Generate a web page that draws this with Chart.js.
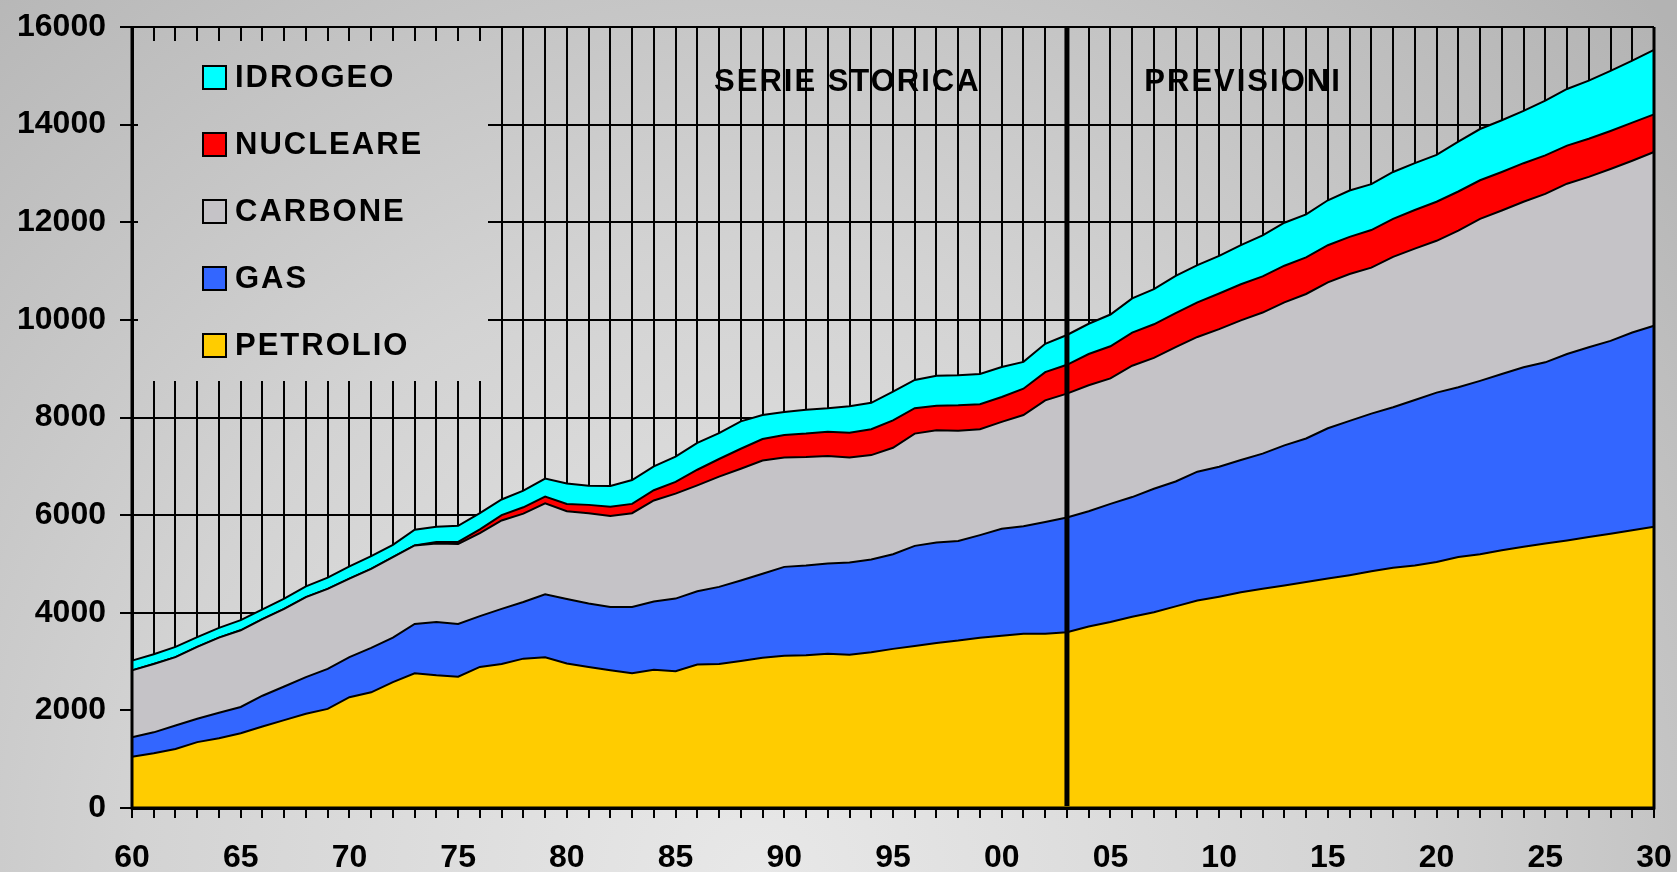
<!DOCTYPE html>
<html><head><meta charset="utf-8">
<script src="https://cdn.jsdelivr.net/npm/chart.js@4.4.1/dist/chart.umd.min.js"></script>
<style>html,body{margin:0;padding:0;background:#c8c8c8;overflow:hidden}canvas{display:block}</style>
</head><body>
<canvas id="c" width="1677" height="872"></canvas>
<script>
const years = [1960,1961,1962,1963,1964,1965,1966,1967,1968,1969,
  1970,1971,1972,1973,1974,1975,1976,1977,1978,1979,
  1980,1981,1982,1983,1984,1985,1986,1987,1988,1989,
  1990,1991,1992,1993,1994,1995,1996,1997,1998,1999,
  2000,2001,2002,2003,2004,2005,2006,2007,2008,2009,
  2010,2011,2012,2013,2014,2015,2016,2017,2018,2019,
  2020,2021,2022,2023,2024,2025,2026,2027,2028,2029,2030];
const xTickLabels = ['60','65','70','75','80','85','90','95','00','05','10','15','20','25','30'];

const petrolio = [1050,1120,1210,1350,1430,1530,1670,1800,1930,2030,
  2270,2370,2580,2760,2720,2690,2890,2950,3060,3090,
  2960,2890,2820,2760,2830,2800,2940,2950,3010,3080,
  3120,3130,3160,3140,3190,3260,3320,3380,3430,3490,
  3530,3570,3570,3600,3720,3810,3920,4010,4130,4250,
  4330,4420,4490,4560,4630,4700,4770,4850,4920,4970,
  5040,5140,5200,5280,5350,5420,5480,5550,5620,5690,5760];
const gas = [400,430,480,480,520,540,630,690,750,820,
  820,910,910,1010,1090,1080,1040,1130,1160,1290,
  1320,1300,1300,1360,1400,1490,1500,1580,1650,1720,
  1820,1840,1850,1890,1900,1940,2050,2060,2040,2100,
  2190,2200,2290,2350,2360,2420,2450,2530,2560,2640,
  2660,2710,2770,2870,2940,3080,3160,3230,3290,3390,
  3470,3480,3550,3610,3680,3710,3820,3890,3950,4050,4120];
const carbone = [1370,1400,1400,1470,1540,1570,1570,1590,1640,1640,
  1610,1620,1650,1610,1610,1640,1700,1810,1810,1860,
  1800,1850,1860,1920,2070,2150,2170,2260,2290,2320,
  2240,2220,2200,2150,2140,2180,2300,2300,2260,2170,
  2190,2280,2490,2540,2580,2570,2690,2680,2750,2760,
  2820,2860,2890,2930,2960,2990,3010,2990,3080,3100,
  3110,3210,3320,3350,3390,3450,3490,3490,3520,3520,3560];
const nucleare = [0,0,0,0,0,0,0,0,0,0,
  0,0,0,0,30,40,80,110,130,140,
  150,170,190,190,210,240,320,360,410,440,
  460,480,500,510,530,560,520,500,520,510,
  510,540,580,590,640,660,680,690,700,710,
  730,740,740,750,750,760,760,770,780,790,
  800,800,790,790,790,790,780,780,780,780,770];
const idrogeo = [200,200,210,200,200,210,200,210,220,230,
  250,260,250,320,310,330,330,320,340,370,
  420,390,425,490,490,520,550,530,560,490,
  475,490,480,540,540,590,580,615,615,620,
  615,550,580,610,620,650,700,720,760,760,
  770,800,840,880,880,920,950,940,960,960,
  960,1020,1050,1060,1070,1120,1160,1190,1230,1270,1320];

const seriesNames = ['PETROLIO','GAS','CARBONE','NUCLEARE','IDROGEO'];
const seriesColors = ['#FFCC00','#3366FF','#C5C3C7','#FF0000','#00FFFF'];
const seriesData = [petrolio, gas, carbone, nucleare, idrogeo];
const splitYear = 2003;
const sectionTitles = ['SERIE STORICA','PREVISIONI'];

const FONT = '"Liberation Sans", Arial, sans-serif';

const decor = {
  id: 'decor',
  beforeDraw(chart) {
    const {ctx, width, height} = chart;
    const g = ctx.createRadialGradient(760, 880, 0, 760, 880, 1250);
    g.addColorStop(0, '#e8e8e8');
    g.addColorStop(0.5, '#d3d3d3');
    g.addColorStop(1, '#b3b3b3');
    chart.$bg = g;
    ctx.save();
    ctx.fillStyle = g;
    ctx.fillRect(0, 0, width, height);
    ctx.restore();
  },
  beforeDatasetsDraw(chart) {
    const {ctx, chartArea} = chart;
    ctx.save();
    ctx.fillStyle = chart.$bg;
    ctx.fillRect(chartArea.left + 6, chartArea.top + 14, 350, 340);
    ctx.restore();
  },
  afterDatasetsDraw(chart) {
    const {ctx, chartArea} = chart;
    const xs = chart.scales.x, ys = chart.scales.y;
    ctx.save();
    ctx.strokeStyle = '#000';
    ctx.lineWidth = 3;
    ctx.beginPath();
    ctx.moveTo(chartArea.left, chartArea.top);
    ctx.lineTo(chartArea.left, chartArea.bottom);
    ctx.lineTo(chartArea.right, chartArea.bottom);
    ctx.lineTo(chartArea.right, chartArea.top);
    ctx.stroke();
    const px = xs.getPixelForValue(years.indexOf(splitYear));
    ctx.lineWidth = 5;
    ctx.beginPath();
    ctx.moveTo(px, chartArea.top);
    ctx.lineTo(px, chartArea.bottom - 2);
    ctx.stroke();
    ctx.font = 'bold 31px ' + FONT;
    ctx.letterSpacing = '2px';
    ctx.fillStyle = '#000';
    ctx.textAlign = 'center';
    ctx.textBaseline = 'middle';
    const ty = ys.getPixelForValue(14870);
    ctx.fillText(sectionTitles[0], xs.getPixelForValue(32.9), ty);
    ctx.fillText(sectionTitles[1], xs.getPixelForValue(51.1), ty);
    ctx.textAlign = 'left';
    const n = chart.data.datasets.length;
    for (let i = 0; i < n; i++) {
      const ds = chart.data.datasets[n - 1 - i];
      const cy = 77 + i * 67;
      ctx.fillStyle = ds.backgroundColor;
      ctx.fillRect(203, cy - 11, 23, 23);
      ctx.lineWidth = 2;
      ctx.strokeStyle = '#000';
      ctx.strokeRect(203, cy - 11, 23, 23);
      ctx.fillStyle = '#000';
      ctx.fillText(ds.label, 235, cy + 1);
    }
    ctx.restore();
  }
};

new Chart(document.getElementById('c'), {
  type: 'line',
  data: {
    labels: years,
    datasets: seriesNames.map((name, i) => ({
      label: name,
      data: seriesData[i],
      backgroundColor: seriesColors[i],
      borderColor: '#000',
      borderWidth: 2,
      fill: i === 0 ? 'origin' : '-1',
      pointRadius: 0,
      tension: 0
    }))
  },
  options: {
    responsive: false,
    animation: false,
    devicePixelRatio: 1,
    layout: {padding: {top: 27, right: 23, left: 0, bottom: 0}},
    plugins: {legend: {display: false}, tooltip: {enabled: false}},
    scales: {
      x: {
        type: 'category',
        offset: false,
        grid: {color: '#000', lineWidth: 2, tickLength: 10, drawTicks: true, tickColor: '#000', tickWidth: 2},
        border: {display: true, color: '#000', width: 3},
        ticks: {
          autoSkip: false, maxRotation: 0, minRotation: 0, color: '#000', padding: 21,
          font: {family: FONT, weight: 'bold', size: 32},
          callback: (v, i) => ((years[i] - 1960) % 5 === 0 ? xTickLabels[(years[i] - 1960) / 5] : '')
        },
        afterFit: s => { s.height = 64; s.paddingLeft = 0; s.paddingRight = 0; }
      },
      y: {
        stacked: true,
        min: 0, max: 16000,
        grid: {color: '#000', lineWidth: 2, tickLength: 12, drawTicks: true, tickColor: '#000', tickWidth: 2},
        border: {display: true, color: '#000', width: 3},
        ticks: {
          stepSize: 2000, color: '#000', padding: 14,
          font: {family: FONT, weight: 'bold', size: 32},
          callback: v => String(v)
        },
        afterFit: s => { s.width = 132; s.paddingTop = 0; s.paddingBottom = 0; }
      }
    }
  },
  plugins: [decor]
});
</script>
</body></html>
